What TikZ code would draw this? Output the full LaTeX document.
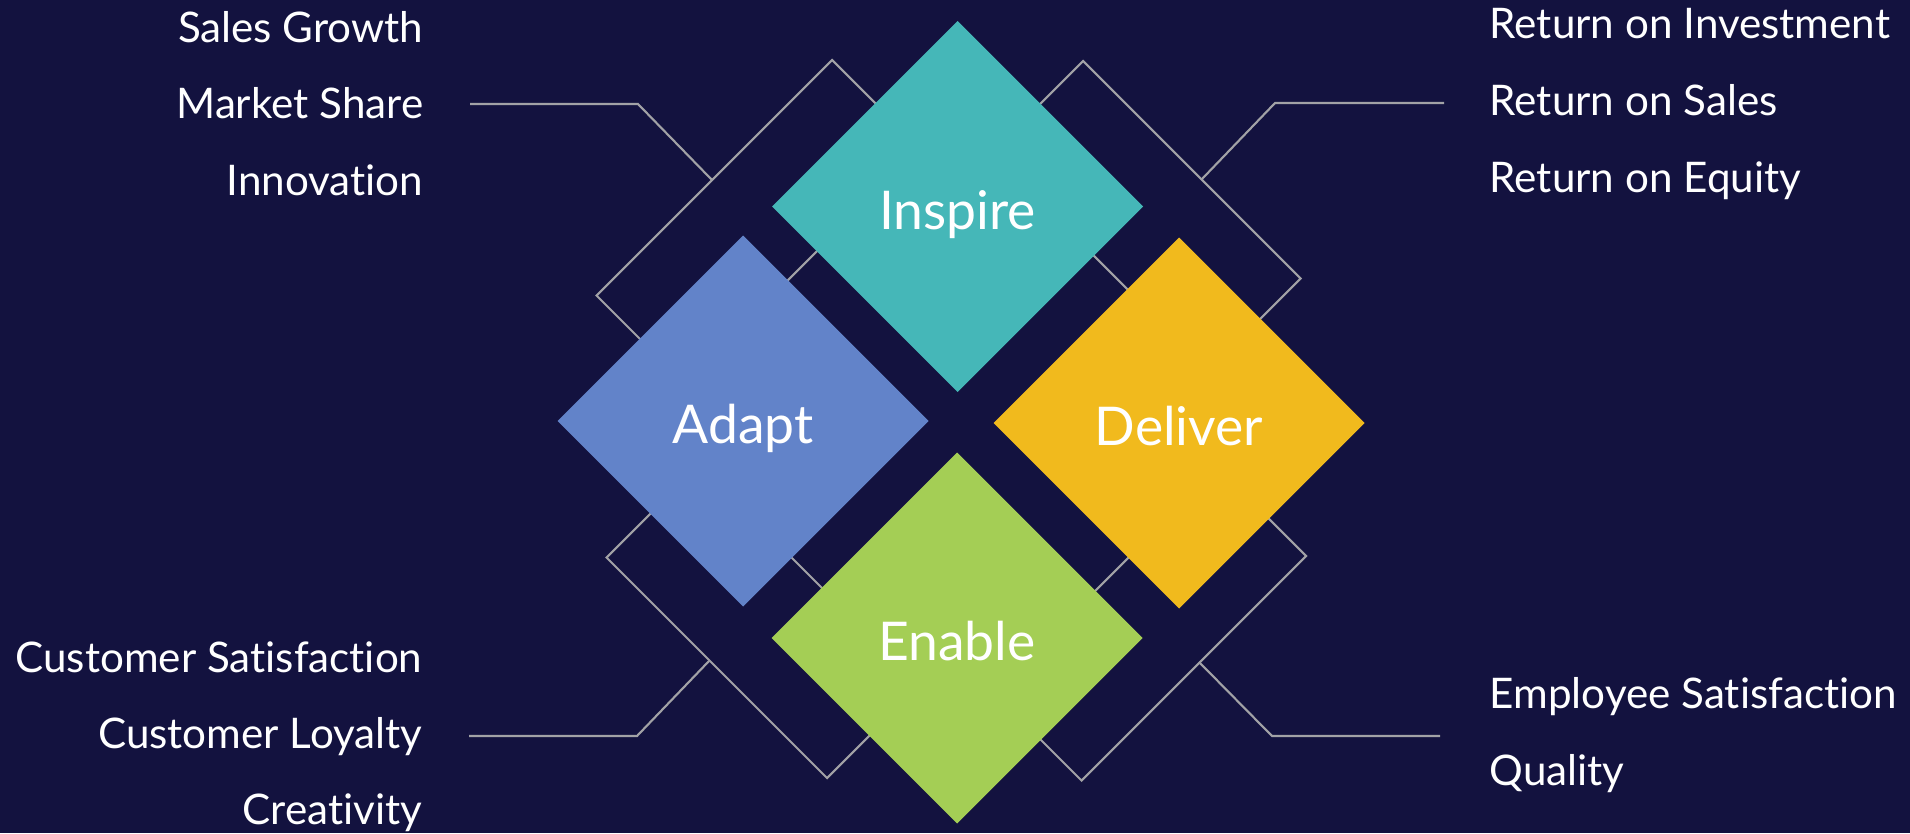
\documentclass[tikz,border=0pt]{standalone}
\usepackage{fontspec}
\setmainfont{Lato}[Ligatures=NoCommon]
\usetikzlibrary{shapes.geometric}
\definecolor{navy}{HTML}{13123F}
\definecolor{linegray}{HTML}{A2A2A6}
\definecolor{inspirecol}{HTML}{45B7B8}
\definecolor{adaptcol}{HTML}{6283C9}
\definecolor{delivercol}{HTML}{F1BA1D}
\definecolor{enablecol}{HTML}{A4CE55}
\begin{document}
\begin{tikzpicture}[x=0.1mm, y=-0.1mm,
  tile/.style={diamond, fill=#1, minimum width=37.1mm, minimum height=37.1mm, inner sep=0pt, outer sep=0pt, text=white, text height=12.8pt, text depth=0pt, font=\fontsize{15.2}{18}\selectfont},
  frame/.style={draw=linegray, line width=0.6pt, line join=miter},
  link/.style={draw=linegray, line width=0.6pt, line join=miter},
  item/.style={text=white, inner sep=0pt, font=\fontsize{12}{14}\selectfont}]
\fill [navy] (0,0) rectangle (1910,833);
\useasboundingbox (0,0) rectangle (1910,833);
\draw [frame] (832,60) -- (920,148) -- (684.5,383.5) -- (596.5,295.5) -- cycle;
\draw [frame] (1083,61) -- (1300.5,278.5) -- (1208.5,370.5) -- (991,153) -- cycle;
\draw [frame] (1306,556) -- (1081.5,780.5) -- (993.5,692.5) -- (1218,468) -- cycle;
\draw [frame] (606.5,557.5) -- (827,778) -- (919.5,685.5) -- (699,465) -- cycle;
\node (inspire) at (957.5,206.5) [tile=inspirecol] {Inspire};
\node (adapt) at (743,421) [tile=adaptcol] {Adapt};
\node (deliver) at (1179,423) [tile=delivercol] {Deliver};
\node (enable) at (957,638) [tile=enablecol] {Enable};
\node (salesgrowth) at (424,42) [item, anchor=base east] {Sales Growth};
\node (marketshare) at (424,118) [item, anchor=base east] {Market Share};
\node (innovation) at (424,195) [item, anchor=base east] {Innovation};
\node (roi) at (1489,38) [item, anchor=base west] {Return on Investment};
\node (ros) at (1489,115) [item, anchor=base west] {Return on Sales};
\node (roe) at (1489,192) [item, anchor=base west] {Return on Equity};
\node (custsat) at (423,672) [item, anchor=base east] {Customer Satisfaction};
\node (loyalty) at (423,748) [item, anchor=base east] {Customer Loyalty};
\node (creativity) at (423,824) [item, anchor=base east] {Creativity};
\node (empsat) at (1489,708) [item, anchor=base west] {Employee Satisfaction};
\node (quality) at (1489,785) [item, anchor=base west] {Quality};
\coordinate (tlend) at (470,104); \coordinate (tlknee) at (638,104); \coordinate (tljoin) at (712,180);
\coordinate (trend) at (1444,103); \coordinate (trknee) at (1275,103); \coordinate (trjoin) at (1202,179);
\coordinate (blend) at (469,736); \coordinate (blknee) at (637,736); \coordinate (bljoin) at (709,661);
\coordinate (brend) at (1440,736); \coordinate (brknee) at (1272,736); \coordinate (brjoin) at (1199,662);
\draw [link] (tlend) -- (tlknee) -- (tljoin) (trend) -- (trknee) -- (trjoin) (blend) -- (blknee) -- (bljoin) (brend) -- (brknee) -- (brjoin);
\end{tikzpicture}
\end{document}
